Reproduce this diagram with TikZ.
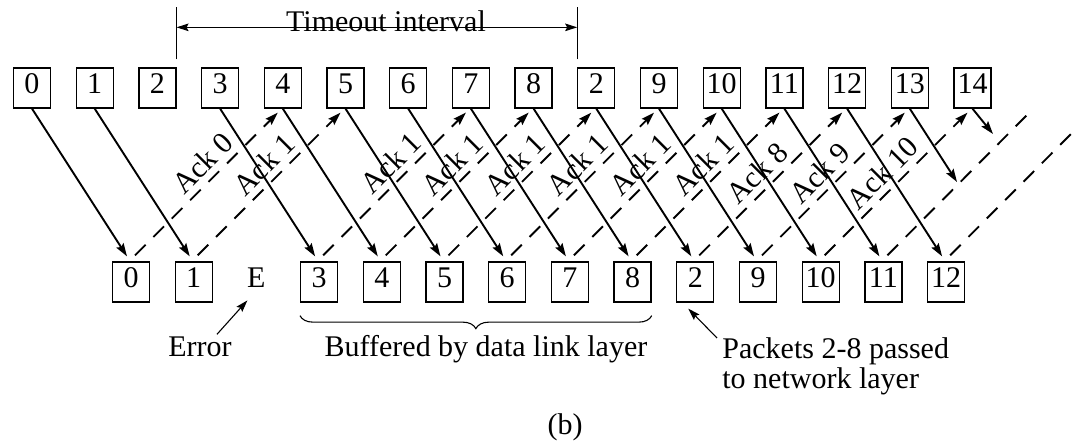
\documentclass[tikz,border=0pt]{standalone}
\usepackage{fontspec}
\setmainfont{Liberation Serif}
\usetikzlibrary{arrows.meta, decorations.pathreplacing}

\begin{document}
\begin{tikzpicture}[
  x=0.5pt, y=-0.5pt,
  font=\fontsize{15}{15}\selectfont,
  pkt/.style   ={rectangle, draw, line width=0.65pt,
                 minimum width=18.5pt, minimum height=20pt, inner sep=0pt,
                 text height=10.5pt, text depth=4.5pt},
  lost/.style  ={inner sep=0pt, text height=10.5pt, text depth=4.5pt},
  data/.style  ={-{Stealth[length=6.5pt, width=4.2pt, inset=1pt]}, line width=0.95pt},
  ack/.style   ={-{Stealth[length=6.5pt, width=4.2pt, inset=1pt]}, line width=0.95pt,
                 dash pattern=on 7.5pt off 5.5pt},
  acklab/.style={sloped, above=1.5pt, inner sep=1.5pt},
  note/.style  ={-{Stealth[length=6pt, width=3.8pt, inset=1pt]}, line width=0.55pt},
  tmr/.style   ={{Stealth[length=6pt, width=3.8pt, inset=1pt]}-{Stealth[length=6pt, width=3.8pt, inset=1pt]},
                 line width=0.55pt},
]
\useasboundingbox (0,0) rectangle (1078,442);

%% ═══════════════ SENDER (top row) ═══════════════
\foreach \lab [count=\i from 0] in {0,1,2,3,4,5,6,7,8,2,9,10,11,12,13,14}
  \node[pkt] (t\i) at ({32+62.7*\i}, 88) {\lab};

%% ═══════════════ RECEIVER (bottom row) ═══════════════
\foreach \i/\lab in {0/0, 1/1, 3/3, 4/4, 5/5, 6/6, 7/7, 8/8,
                     9/2, 10/9, 11/10, 12/11, 13/12}
  \node[pkt] (r\i) at ({131+62.7*\i}, 282) {\lab};
\node[lost] (r2) at ({131+62.7*2}, 282) {E};

%% Frames
\foreach \i in {0,1,3,4,5,6,7,8,9,10,11,12,13}
  \draw[data] (t\i.south) -- ([xshift=-2pt, yshift=2.5pt]r\i.north);
\coordinate (m14) at (957, 182);
\coordinate (m15) at (993, 134);
\draw[data] (t14.south) -- (m14);
\draw[data] (t15.south) -- (m15);

%% Acknowledgements
\foreach \i/\j/\lab/\p in {0/4/0/.56, 1/5/1/.55, 3/7/1/.56, 4/8/1/.55,
                           5/9/1/.55, 6/10/1/.55, 7/11/1/.55, 8/12/1/.55,
                           9/13/8/.49, 10/14/9/.49, 11/15/10/.49}
  \draw[ack] ([xshift=2pt, yshift=3pt]r\i.north) --
    node[acklab, pos=\p] {Ack \lab} ([xshift=-2.5pt, yshift=-2pt]t\j.south);
\coordinate (a12) at (1029, 113);
\coordinate (a13) at (1078, 127);
\draw[ack, -] ([xshift=2pt, yshift=3pt]r12.north) -- (a12);
\draw[ack, -] ([xshift=2pt, yshift=3pt]r13.north) -- (a13);

%% Timeout interval
\draw[line width=0.55pt] ([yshift=4pt]t2.north east) -- ([yshift=30pt]t2.north east);
\draw[line width=0.55pt] ([yshift=4pt]t9.north west) -- ([yshift=30pt]t9.north west);
\draw[tmr] ([yshift=20pt]t2.north east) -- ([yshift=20pt]t9.north west);
\node[anchor=base] (tmo) at (386, 32) {Timeout interval};

%% Notes below
\node[anchor=base] (err) at (200, 357) {Error};
\draw[note] ([xshift=8.5pt, yshift=-2pt]err.north) -- ([xshift=-4.5pt, yshift=-1.5pt]r2.south);

\draw[line width=0.55pt, decorate, decoration={brace, mirror, amplitude=6.5pt}]
  ([yshift=-6.5pt]r3.south west) -- ([yshift=-6.5pt]r8.south east);
\node[anchor=base] (buf) at (486, 357) {Buffered by data link layer};

\node[anchor=north west, align=left, inner sep=0pt] (pass) at (722, 337)
  {Packets 2-8 passed\\to network layer};
\draw[note] ([xshift=-2.5pt, yshift=-0.5pt]pass.north west) -- ([xshift=-3.5pt, yshift=-3pt]r9.south);

\node (cap) at (565, 427) {(b)};

\end{tikzpicture}
\end{document}
